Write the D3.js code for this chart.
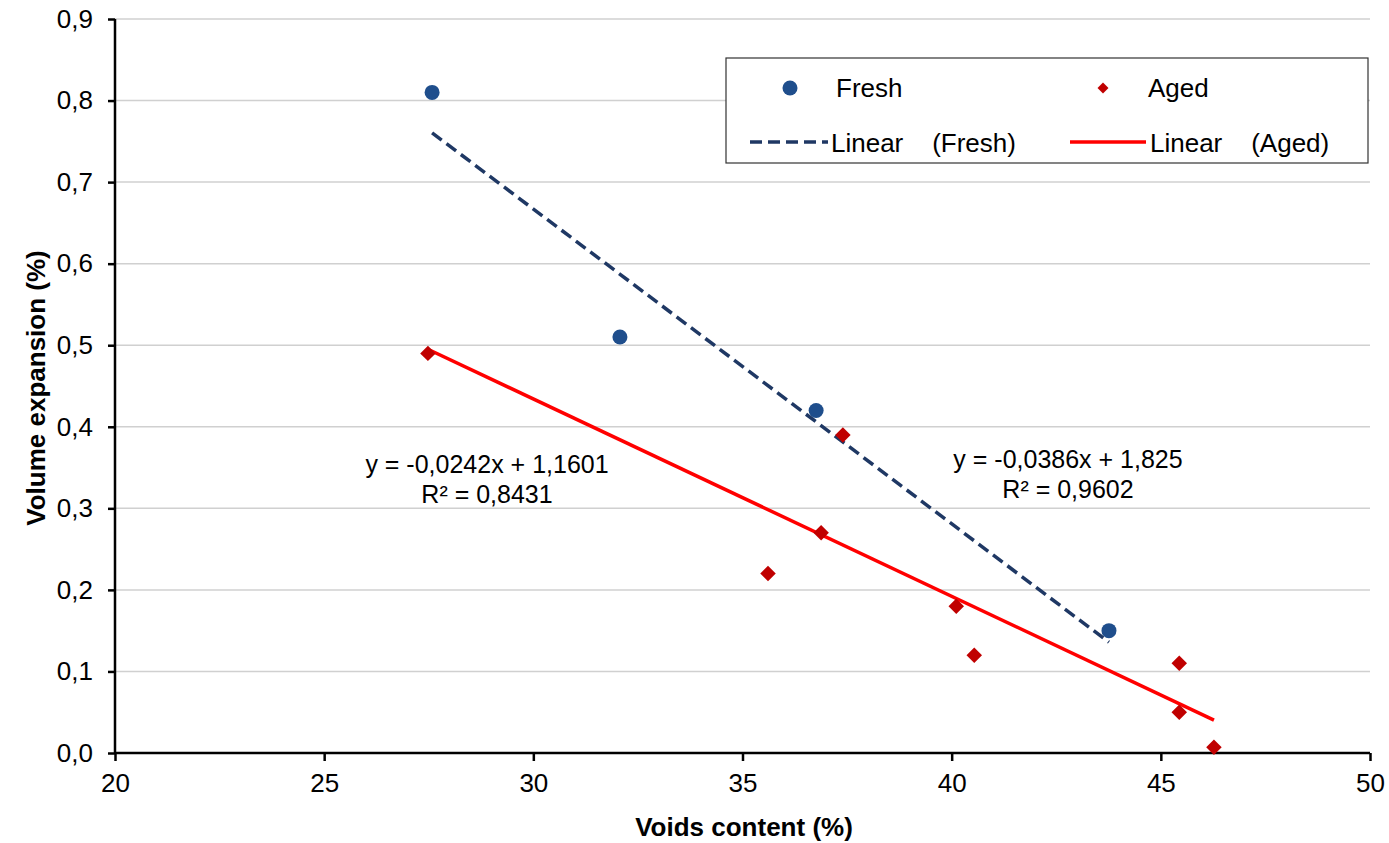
<!DOCTYPE html>
<html>
<head>
<meta charset="utf-8">
<script src="https://cdn.jsdelivr.net/npm/d3@7"></script>
<style>
  body { margin: 0; background: #fff; }
  svg text { font-family: "Liberation Sans", Arial, sans-serif; fill: #000; }
</style>
</head>
<body>
<svg id="chart" width="1389" height="843"></svg>
<script>
// values
var freshX = [27.58, 32.07, 36.76, 43.76];
var freshY = [0.81, 0.51, 0.42, 0.15];
var agedX = [27.48, 37.40, 36.88, 35.61, 40.11, 40.54, 45.44, 45.44, 46.27];
var agedY = [0.49, 0.39, 0.27, 0.22, 0.18, 0.12, 0.11, 0.05, 0.007];

// trend lines as printed on the chart: [slope, intercept]
var freshFit = [-0.0386, 1.825];
var agedFit = [-0.0242, 1.1601];
var freshLabel = ["y = -0,0386x + 1,825", "R\u00b2 = 0,9602"];
var agedLabel = ["y = -0,0242x + 1,1601", "R\u00b2 = 0,8431"];

var xTicks = [20, 25, 30, 35, 40, 45, 50];
var yTicks = [0, 0.1, 0.2, 0.3, 0.4, 0.5, 0.6, 0.7, 0.8, 0.9];

var margin = {top: 19, right: 19, bottom: 90, left: 115},
    width = 1389 - margin.left - margin.right,
    height = 843 - margin.top - margin.bottom;

var svg = d3.select("#chart");
var g = svg.append("g")
  .attr("transform", "translate(" + margin.left + "," + margin.top + ")");

var x = d3.scaleLinear().domain([20, 50]).range([0, width]);
var y = d3.scaleLinear().domain([0, 0.9]).range([height, 0]);

var comma = function(d) { return d3.format(".1f")(d).replace(".", ","); };

// gridlines
g.append("g").selectAll("line")
  .data(yTicks.slice(1))
  .enter().append("line")
  .attr("x1", 0).attr("x2", width)
  .attr("y1", function(d) { return y(d); })
  .attr("y2", function(d) { return y(d); })
  .attr("stroke", "#d0d0d0").attr("stroke-width", 1.5);

// axes
var yAxis = g.append("g")
  .call(d3.axisLeft(y).tickValues(yTicks).tickFormat(comma).tickSize(7).tickPadding(15));
var xAxis = g.append("g")
  .attr("transform", "translate(0," + height + ")")
  .call(d3.axisBottom(x).tickValues(xTicks).tickSize(8).tickPadding(13));

[xAxis, yAxis].forEach(function(a) {
  a.select(".domain").attr("stroke", "#000").attr("stroke-width", 2.5);
  a.selectAll(".tick line").attr("stroke", "#000").attr("stroke-width", 2.5);
  a.selectAll(".tick text").style("font-size", "26px").attr("fill", "#000");
});
yAxis.select(".domain").attr("d", "M0," + height + "V0");
xAxis.select(".domain").attr("d", "M0,0H" + width);

// trend lines
var line = d3.line().x(function(d) { return x(d[0]); }).y(function(d) { return y(d[1]); });
function fitPts(xs, fit) {
  var lo = d3.min(xs), hi = d3.max(xs);
  return [[lo, fit[0] * lo + fit[1]], [hi, fit[0] * hi + fit[1]]];
}
g.append("path")
  .attr("d", line(fitPts(agedX, agedFit)))
  .attr("fill", "none").attr("stroke", "#ff0000").attr("stroke-width", 3.5);
g.append("path")
  .attr("d", line(fitPts(freshX, freshFit)))
  .attr("fill", "none").attr("stroke", "#1f3864").attr("stroke-width", 3.5)
  .attr("stroke-dasharray", "12,6");

// markers
var diamond = d3.symbol().type(d3.symbolSquare).size(120);
g.append("g").selectAll("path")
  .data(d3.zip(agedX, agedY))
  .enter().append("path")
  .attr("d", diamond)
  .attr("transform", function(d) { return "translate(" + x(d[0]) + "," + y(d[1]) + ") rotate(45)"; })
  .attr("fill", "#c00000");

g.append("g").selectAll("circle")
  .data(d3.zip(freshX, freshY))
  .enter().append("circle")
  .attr("cx", function(d) { return x(d[0]); })
  .attr("cy", function(d) { return y(d[1]); })
  .attr("r", 7.5)
  .attr("fill", "#1f4e8c");

// equation labels
function eqLabel(lines, cx, cy, gap) {
  var t = g.append("text").attr("text-anchor", "middle").style("font-size", "25px");
  lines.forEach(function(s, i) {
    t.append("tspan").attr("x", cx).attr("y", cy + i * gap).text(s);
  });
}
eqLabel(agedLabel, 487 - margin.left, 473 - margin.top, 30);
eqLabel(freshLabel, 1068 - margin.left, 468 - margin.top, 30);

// axis titles
svg.append("text")
  .attr("x", 744).attr("y", 836)
  .attr("text-anchor", "middle")
  .style("font-size", "26px").style("font-weight", "bold")
  .text("Voids content (%)");
svg.append("text")
  .attr("transform", "translate(45,388) rotate(-90)")
  .attr("text-anchor", "middle")
  .style("font-size", "26px").style("font-weight", "bold")
  .text("Volume expansion (%)");

// legend
var lg = svg.append("g").attr("transform", "translate(726,58)");
lg.append("rect")
  .attr("width", 642).attr("height", 105)
  .attr("fill", "#fff").attr("stroke", "#333").attr("stroke-width", 1.2);
lg.append("circle").attr("cx", 64).attr("cy", 30).attr("r", 7.5).attr("fill", "#1f4e8c");
lg.append("path").attr("d", d3.symbol().type(d3.symbolSquare).size(60))
  .attr("transform", "translate(377,30) rotate(45)").attr("fill", "#c00000");
lg.append("line").attr("x1", 24).attr("x2", 102).attr("y1", 84).attr("y2", 84)
  .attr("stroke", "#1f3864").attr("stroke-width", 3.5).attr("stroke-dasharray", "12,6");
lg.append("line").attr("x1", 344).attr("x2", 420).attr("y1", 84).attr("y2", 84)
  .attr("stroke", "#ff0000").attr("stroke-width", 3.5);
var legendText = [["Fresh", 110, 39], ["Aged", 422, 39], ["Linear    (Fresh)", 105, 94], ["Linear    (Aged)", 424, 94]];
legendText.forEach(function(d) {
  lg.append("text").attr("x", d[1]).attr("y", d[2])
    .style("font-size", "26px").style("white-space", "pre").attr("xml:space", "preserve").text(d[0]);
});
</script>
</body>
</html>
